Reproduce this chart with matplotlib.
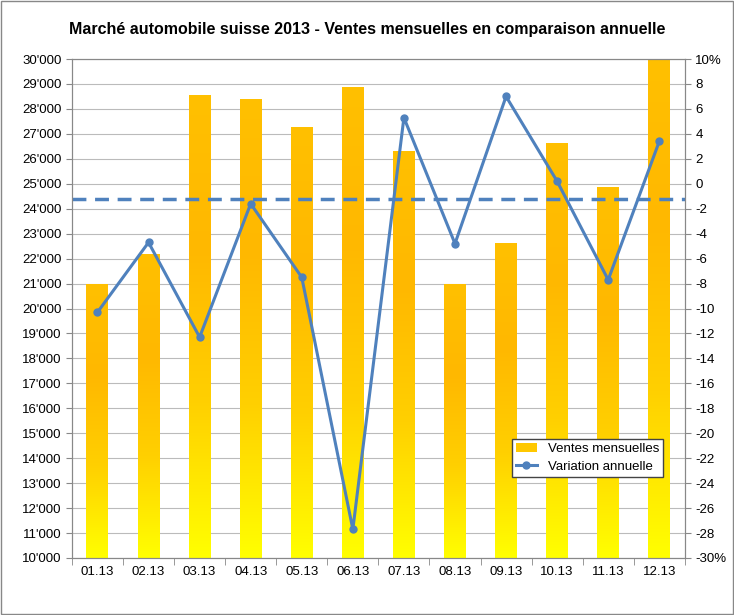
import matplotlib
matplotlib.use("Agg")
import matplotlib.pyplot as plt
import numpy as np
from matplotlib.colors import LinearSegmentedColormap
from matplotlib.patches import Patch
from matplotlib.lines import Line2D

months = ["01.13","02.13","03.13","04.13","05.13","06.13","07.13","08.13","09.13","10.13","11.13","12.13"]
sales = [20950, 22150, 28520, 28380, 27250, 28850, 26300, 20950, 22600, 26600, 24850, 30000]
variation = [-10.3, -4.7, -12.3, -1.6, -7.5, -27.7, 5.3, -4.8, 7.0, 0.2, -7.7, 3.4]
avg_variation = -1.2

plt.rcParams["font.family"] = "Liberation Sans"
fig = plt.figure(figsize=(7.34, 6.15), dpi=100)
fig.patches.append(plt.Rectangle((0.002, 0.002), 0.996, 0.996, transform=fig.transFigure,
                                 fill=False, edgecolor="#888888", lw=1))
ax = fig.add_axes([0.098, 0.0927, 0.835, 0.8113])
x = np.arange(len(months))
cmap = LinearSegmentedColormap.from_list("g", ["#FFFF00", "#FFD000", "#FFB800", "#FFC000"])
w = 0.43
grad = np.linspace(0, 1, 256).reshape(-1, 1)
for xi, v in zip(x, sales):
    ax.imshow(grad, extent=(xi - w/2, xi + w/2, 10000, v), origin="lower", aspect="auto",
              cmap=cmap, zorder=2)
ax.set_aspect("auto")
ax.set_xlim(-0.5, 11.5)
ax.set_ylim(10000, 30000)
ax.set_yticks(range(10000, 30001, 1000))
ax.set_yticklabels([f"{v//1000}'000" for v in range(10000, 30001, 1000)], fontsize=9.5)
ax.set_xticks(x)
ax.set_xticklabels(months, fontsize=9.5)
ax.set_xticks(np.arange(-0.5, 12, 1), minor=True)
ax.tick_params(axis="x", which="major", length=0, pad=6)
ax.tick_params(axis="x", which="minor", length=5, color="#888888")
ax.tick_params(axis="y", length=4, color="#888888")
ax.grid(axis="y", color="#BBBBBB", lw=0.8, zorder=0)
ax.set_axisbelow(True)
for s in ax.spines.values():
    s.set_color("#888888")

ax2 = ax.twinx()
ax2.set_ylim(-30, 10)
ax2.plot(x, variation, color="#4F81BD", lw=2.2, marker="o", ms=5, zorder=5)
ax2.axhline(avg_variation, color="#4F81BD", lw=2.5, ls=(0, (4, 2.5)))
ticks = list(range(-30, 11, 2))
ax2.set_yticks(ticks)
ax2.set_yticklabels([f"{t}%" if t in (-30, 10) else str(t) for t in ticks], fontsize=9.5)
ax2.tick_params(axis="y", length=4, color="#888888")
for s in ax2.spines.values():
    s.set_color("#888888")

fig.text(0.5, 0.952, "Marché automobile suisse 2013 - Ventes mensuelles en comparaison annuelle",
         ha="center", va="center", fontsize=11.5, fontweight="bold")
handles = [Patch(facecolor="#FFC800", edgecolor="none"),
           Line2D([], [], color="#4F81BD", lw=2.2, marker="o", ms=5)]
leg = ax2.legend(handles, ["Ventes mensuelles", "Variation annuelle"], loc="lower right",
                 bbox_to_anchor=(0.975, 0.15), fontsize=9.5, fancybox=False, framealpha=1,
                 edgecolor="#444444", handlelength=1.6, borderpad=0.3, labelspacing=0.4)
fig.savefig("out.png", dpi=100)
